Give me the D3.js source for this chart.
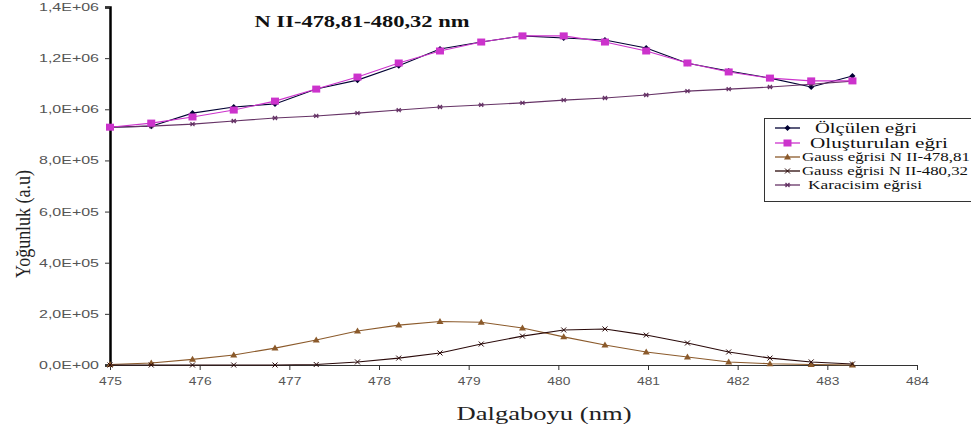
<!DOCTYPE html>
<html><head><meta charset="utf-8">
<script src="https://cdn.jsdelivr.net/npm/d3@7"></script>
<style>body{margin:0;background:#fff}svg{display:block}</style>
</head><body><svg id="c" width="971" height="432"></svg>
<script>
const wavelengths = [475.00,475.46,475.92,476.38,476.84,477.30,477.76,478.22,478.68,479.14,479.60,480.06,480.52,480.98,481.44,481.90,482.36,482.82,483.28];
const measured = [930000,934000,985000,1009000,1021000,1079000,1114000,1170000,1236000,1263000,1287000,1279000,1271000,1240000,1180000,1150000,1122000,1087000,1130000];
const fitted   = [930000,946000,970000,997000,1032000,1079000,1126000,1181000,1228000,1263000,1287000,1287000,1263000,1228000,1181000,1146000,1122000,1111000,1111000];
const gauss1   = [2000,8000,22000,39000,66000,98000,133000,156000,170000,167000,145000,110000,78000,51000,31000,12000,5000,2000,0];
const gauss2   = [0,0,0,0,0,2000,12000,27000,47000,82000,113000,137000,141000,117000,86000,51000,27000,12000,4000];
const blackbody= [930000,934000,942000,954000,966000,974000,985000,997000,1009000,1017000,1025000,1036000,1044000,1056000,1071000,1079000,1087000,1098000,1110000];
const xTicks = [475,476,477,478,479,480,481,482,483,484];
const yTicks = [0,200000,400000,600000,800000,1000000,1200000,1400000];
const seriesNames = ["Ölçülen eğri","Oluşturulan eğri","Gauss eğrisi N II-478,81","Gauss eğrisi N II-480,32","Karacisim eğrisi"];

const svg = d3.select("#c");
const x = d3.scaleLinear().domain([475,484]).range([110,917]);
const y = d3.scaleLinear().domain([0,1400000]).range([365,7]);
const SERIF = "Liberation Serif, Times New Roman, serif";
const SANS = "Liberation Sans, Arial, sans-serif";

const fmtY = v => { if (v===0) return "0,0E+00"; const e = Math.floor(Math.log10(v)); const m = v/Math.pow(10,e); return m.toFixed(1).replace(".",",")+"E+"+String(e).padStart(2,"0"); };
const stretch = (sel, w) => sel.attr("textLength", w).attr("lengthAdjust","spacingAndGlyphs");

// axes
const xa = svg.append("g").attr("transform","translate(0,365)")
  .call(d3.axisBottom(x).tickValues(xTicks).tickSize(5).tickPadding(7).tickFormat(d=>d));
xa.select(".domain").attr("stroke","#333").attr("stroke-width",1);
xa.selectAll(".tick line").attr("stroke","#333");
xa.selectAll("text").attr("font-family",SANS).attr("font-size",11).attr("fill","#555").call(stretch, 23);

const ya = svg.append("g").attr("transform","translate(110,0)")
  .call(d3.axisLeft(y).tickValues(yTicks).tickSize(5).tickPadding(6).tickFormat(fmtY));
ya.select(".domain").attr("stroke","#000").attr("stroke-width",2.5);
ya.selectAll(".tick line").attr("stroke","#333");
ya.selectAll("text").attr("font-family",SANS).attr("font-size",11).attr("fill","#555").call(stretch, 60);

// labels
svg.append("text").attr("x",362).attr("y",27).attr("text-anchor","middle")
  .attr("font-family",SERIF).attr("font-weight","bold").attr("font-size",17).attr("fill","#111")
  .text("N II-478,81-480,32 nm").call(stretch, 215);
svg.append("text").attr("transform","translate(30,224) rotate(-90)").attr("text-anchor","middle")
  .attr("font-family",SERIF).attr("font-size",20).attr("fill","#222")
  .text("Yoğunluk (a.u)").call(stretch, 108);
svg.append("text").attr("x",544).attr("y",420).attr("text-anchor","middle")
  .attr("font-family",SERIF).attr("font-size",18).attr("fill","#222")
  .text("Dalgaboyu (nm)").call(stretch, 175);

const line = d3.line().x((d,i)=>x(wavelengths[i])).y(d=>y(d));

function marker(g, type, cx, cy, color){
  if(type==="diamond"){
    g.append("path").attr("d",`M${cx},${cy-3}L${cx+3},${cy}L${cx},${cy+3}L${cx-3},${cy}Z`).attr("fill",color);
  } else if(type==="square"){
    g.append("rect").attr("x",cx-4).attr("y",cy-3.5).attr("width",8).attr("height",7).attr("fill",color);
  } else if(type==="triangle"){
    g.append("path").attr("d",`M${cx},${cy-3.5}L${cx+3.5},${cy+2.5}L${cx-3.5},${cy+2.5}Z`).attr("fill",color);
  } else if(type==="x"){
    g.append("path").attr("d",`M${cx-2.5},${cy-2.5}L${cx+2.5},${cy+2.5}M${cx-2.5},${cy+2.5}L${cx+2.5},${cy-2.5}`).attr("stroke",color).attr("stroke-width",1);
  } else if(type==="star"){
    g.append("path").attr("d",`M${cx-3},${cy}L${cx+3},${cy}M${cx-2},${cy-2}L${cx+2},${cy+2}M${cx-2},${cy+2}L${cx+2},${cy-2}`).attr("stroke",color).attr("stroke-width",1.2);
  }
}

const series = [
  {name:seriesNames[0], data:measured, color:"#000033", m:"diamond"},
  {name:seriesNames[4], data:blackbody, color:"#663366", m:"star"},
  {name:seriesNames[2], data:gauss1, color:"#8B5A2B", m:"triangle"},
  {name:seriesNames[3], data:gauss2, color:"#2a0a0a", m:"x"},
  {name:seriesNames[1], data:fitted, color:"#CC33CC", m:"square"},
];
series.forEach(s=>{
  const g = svg.append("g");
  g.append("path").attr("d",line(s.data)).attr("fill","none").attr("stroke",s.color).attr("stroke-width",1.1);
  s.data.forEach((v,i)=>marker(g,s.m,x(wavelengths[i]),y(v),s.color));
});

// legend
const lg = svg.append("g");
lg.append("rect").attr("x",764.5).attr("y",118.5).attr("width",215).attr("height",83).attr("fill","#fff").attr("stroke","#333").attr("stroke-width",1);
const leg = [
  {s:series[0], y:128, fs:15, tx:815, w:102},
  {s:series[4], y:143, fs:15, tx:810, w:138},
  {s:series[2], y:157, fs:12, tx:802, w:168},
  {s:series[3], y:171, fs:12, tx:802, w:166},
  {s:series[1], y:185, fs:12.5, tx:808, w:114},
];
leg.forEach(l=>{
  lg.append("line").attr("x1",775).attr("x2",800).attr("y1",l.y).attr("y2",l.y).attr("stroke",l.s.color).attr("stroke-width",1.3);
  marker(lg,l.s.m,787.5,l.y,l.s.color);
  lg.append("text").attr("x",l.tx).attr("y",l.y+l.fs*0.33).attr("font-family",SERIF)
    .attr("font-size",l.fs).attr("fill","#111").text(l.s.name).call(stretch, l.w);
});
</script></body></html>
